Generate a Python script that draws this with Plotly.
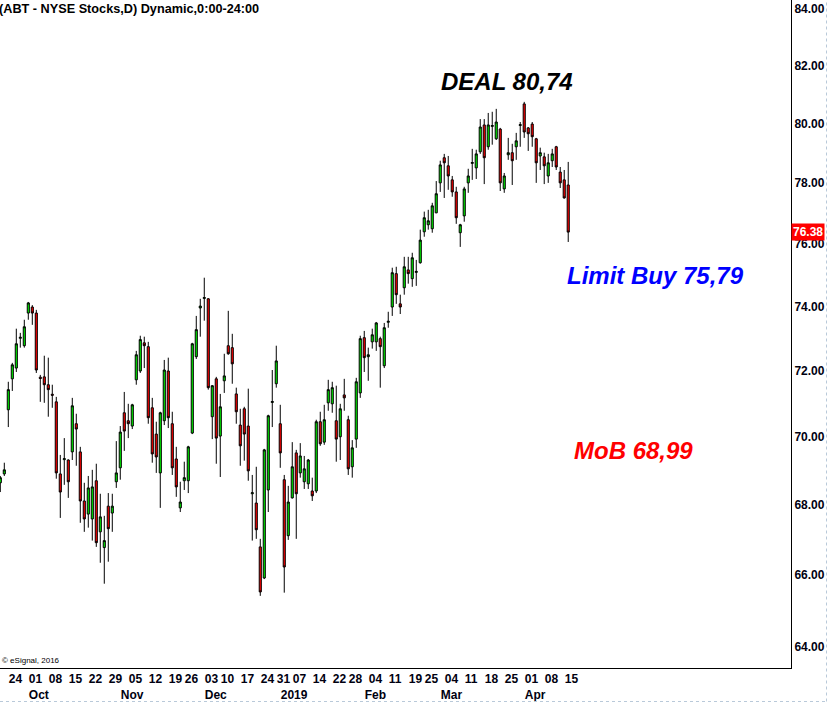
import math
import pandas as pd
import plotly.graph_objects as go

# ---------------- data ----------------
holidays = ["2018-11-22", "2018-12-05", "2018-12-25", "2019-01-01", "2019-01-21", "2019-02-18"]
trading_days = [d for d in pd.bdate_range("2018-09-20", "2019-04-16")
                if d.strftime("%Y-%m-%d") not in holidays]

open_ = [68.64, 68.90, 70.81, 71.75, 72.08, 73.00, 72.77, 73.79, 73.98, 73.79,
         71.80, 71.81, 71.57, 71.28, 71.05, 68.90, 69.32, 69.31, 69.55, 70.39,
         69.55, 68.11, 67.73, 67.59, 68.70, 67.22, 66.77, 67.96, 67.76, 68.67,
         69.08, 70.72, 70.48, 70.32, 71.72, 71.99, 72.86, 72.74, 70.87, 70.08,
         68.93, 70.48, 71.99, 70.39, 69.34, 67.91, 68.70, 68.70, 70.11, 72.43,
         73.95, 74.25, 74.24, 70.60, 71.75, 70.02, 71.69, 72.77, 72.71, 71.29,
         70.35, 70.84, 70.32, 68.32, 68.05, 66.79, 65.91, 68.43, 71.03, 71.60,
         70.39, 68.73, 67.11, 68.20, 69.52, 68.93, 68.67, 68.61, 68.40, 68.40,
         70.45, 69.84, 71.02, 70.99, 70.48, 70.00, 71.26, 70.51, 69.11, 69.93,
         71.32, 73.02, 72.43, 72.89, 72.89, 72.99, 72.15, 73.50, 73.98, 75.04,
         74.08, 74.59, 75.16, 74.88, 75.08, 75.39, 76.39, 76.62, 76.49, 77.01,
         78.00, 78.84, 78.57, 78.10, 77.70, 76.36, 76.91, 78.00, 78.65, 78.50,
         79.04, 79.95, 79.21, 79.90, 79.48, 79.81, 77.80, 78.94, 79.01, 79.21,
         79.93, 80.67, 79.85, 79.98, 79.48, 78.90, 78.87, 78.23, 78.74, 79.21,
         78.36, 78.10, 77.93]
high = [68.84, 69.23, 71.66, 72.24, 73.30, 73.17, 73.58, 74.14, 74.04, 73.89,
        71.87, 72.46, 72.40, 71.57, 71.20, 69.46, 69.96, 69.33, 71.17, 70.69,
        69.70, 68.64, 68.84, 69.02, 69.20, 68.32, 67.68, 68.34, 68.32, 69.87,
        70.32, 71.35, 70.99, 70.99, 72.61, 73.08, 73.05, 72.89, 71.17, 70.45,
        70.75, 72.33, 72.40, 70.75, 69.70, 68.67, 69.26, 69.73, 72.86, 73.70,
        74.24, 74.91, 74.26, 71.56, 71.81, 71.29, 72.52, 73.86, 73.14, 71.48,
        70.84, 70.90, 71.45, 68.87, 69.11, 67.02, 69.64, 70.66, 72.02, 72.77,
        70.96, 68.87, 68.55, 69.84, 69.61, 69.81, 69.43, 69.34, 68.79, 70.51,
        70.75, 70.96, 71.72, 71.66, 71.54, 70.99, 71.75, 70.63, 69.90, 71.78,
        73.08, 73.23, 72.71, 73.30, 73.51, 73.05, 73.48, 73.83, 75.23, 75.26,
        74.37, 75.58, 75.58, 75.71, 75.48, 76.46, 77.05, 77.11, 77.34, 78.06,
        78.74, 78.97, 78.90, 78.23, 77.87, 76.65, 77.87, 78.47, 79.14, 79.11,
        80.15, 80.15, 80.36, 80.40, 80.50, 79.85, 78.33, 79.51, 79.31, 79.68,
        80.05, 80.74, 79.88, 80.05, 79.51, 79.18, 79.01, 78.97, 79.14, 79.24,
        78.53, 78.43, 78.70]
low = [68.37, 68.84, 70.29, 71.38, 71.96, 72.71, 72.71, 73.58, 73.42, 71.93,
       71.05, 71.02, 70.60, 70.87, 68.76, 67.62, 68.58, 68.20, 69.31, 69.14,
       67.48, 67.22, 67.34, 66.97, 66.79, 66.34, 65.75, 66.37, 67.22, 68.49,
       68.73, 69.58, 69.96, 70.23, 71.57, 71.93, 72.08, 70.39, 69.23, 68.93,
       67.91, 70.35, 70.26, 68.87, 68.23, 67.79, 68.43, 68.34, 70.08, 72.36,
       73.05, 73.55, 71.42, 69.93, 69.20, 68.81, 71.32, 72.49, 71.60, 70.39,
       69.14, 69.29, 68.70, 66.97, 67.02, 65.41, 65.88, 67.79, 70.29, 71.48,
       69.08, 65.50, 66.99, 68.18, 67.02, 68.79, 68.46, 68.46, 68.11, 68.34,
       69.73, 69.76, 70.78, 70.72, 69.26, 69.31, 70.78, 68.87, 68.79, 69.67,
       71.17, 71.96, 71.69, 72.68, 72.61, 71.48, 72.08, 73.33, 73.70, 74.08,
       73.76, 74.37, 74.72, 74.62, 74.65, 75.36, 76.23, 76.46, 76.36, 77.00,
       77.70, 77.50, 77.77, 77.54, 76.65, 75.90, 76.72, 77.67, 78.10, 78.13,
       78.97, 77.96, 79.11, 79.28, 79.44, 77.73, 77.67, 78.77, 77.93, 78.77,
       79.21, 79.51, 79.07, 79.21, 78.00, 78.43, 77.96, 78.00, 78.53, 78.43,
       77.83, 77.48, 76.06]
close = [68.79, 69.02, 71.42, 72.18, 72.83, 73.03, 73.36, 74.11, 73.79, 72.02,
         71.76, 71.57, 71.42, 71.25, 68.93, 68.37, 69.35, 68.67, 70.93, 70.23,
         68.11, 67.59, 68.49, 68.52, 66.91, 67.65, 66.97, 67.31, 67.96, 68.93,
         70.14, 70.17, 70.39, 70.96, 72.49, 72.96, 72.77, 70.57, 69.49, 69.40,
         70.72, 72.02, 70.57, 69.08, 68.52, 68.08, 68.79, 69.70, 72.83, 73.27,
         74.01, 74.28, 71.48, 71.54, 69.96, 70.90, 71.84, 72.52, 72.21, 70.75,
         69.73, 70.08, 68.99, 68.35, 67.28, 65.52, 69.61, 70.63, 71.06, 72.30,
         69.52, 66.22, 68.08, 69.11, 68.32, 69.43, 69.05, 69.31, 68.26, 70.45,
         69.79, 70.51, 71.42, 71.48, 69.93, 70.84, 71.17, 69.05, 69.67, 71.66,
         72.99, 72.40, 72.49, 73.11, 73.48, 72.74, 73.33, 73.53, 75.07, 74.37,
         73.98, 75.26, 75.04, 75.55, 75.11, 76.12, 76.85, 76.75, 77.24, 77.64,
         78.60, 78.67, 78.23, 77.70, 76.85, 76.62, 77.80, 78.23, 78.68, 78.97,
         79.88, 78.84, 79.95, 79.93, 80.05, 78.00, 78.23, 79.01, 78.74, 79.41,
         79.96, 79.71, 79.65, 79.55, 78.67, 79.01, 78.57, 78.67, 78.97, 78.53,
         78.00, 77.50, 76.38]

week_starts = ["2018-09-24", "2018-10-01", "2018-10-08", "2018-10-15", "2018-10-22", "2018-10-29",
               "2018-11-05", "2018-11-12", "2018-11-19", "2018-11-26", "2018-12-03", "2018-12-10",
               "2018-12-17", "2018-12-24", "2018-12-31", "2019-01-07", "2019-01-14", "2019-01-22",
               "2019-01-28", "2019-02-04", "2019-02-11", "2019-02-19", "2019-02-25", "2019-03-04",
               "2019-03-11", "2019-03-18", "2019-03-25", "2019-04-01", "2019-04-08", "2019-04-15"]
month_starts = ["2018-10-01", "2018-11-01", "2018-12-03", "2019-01-02", "2019-02-01", "2019-03-01", "2019-04-01"]
month_names = ["Oct", "Nov", "Dec", "2019", "Feb", "Mar", "Apr"]

price_ticks = [64, 66, 68, 70, 72, 74, 76, 78, 80, 82, 84]

# ---------------- figure ----------------
FONT = "Liberation Sans, Arial, sans-serif"
day_keys = [d.strftime("%Y-%m-%d") for d in trading_days]
x = list(range(len(trading_days)))

labels = {}
for ds in week_starts:
    labels.setdefault(day_keys.index(ds), ["\u00a0", ""])[0] = ds[-2:]
for ds, name in zip(month_starts, month_names):
    labels.setdefault(day_keys.index(ds), ["\u00a0", ""])[1] = name
tickvals = sorted(labels)
ticktext = [labels[k][0] + ("<br>" + labels[k][1] if labels[k][1] else "") for k in tickvals]

fig = go.Figure(go.Candlestick(
    x=x, open=open_, high=high, low=low, close=close,
    text=day_keys, hoverinfo="text+y",
    increasing=dict(fillcolor="#00f000", line=dict(color="black", width=1)),
    decreasing=dict(fillcolor="#ff0000", line=dict(color="black", width=1)),
    whiskerwidth=0, showlegend=False,
))

W, H = 830, 704
ML, MR, MT, MB = 0, 39, 0, 36
pw, ph = W - ML - MR, H - MT - MB

fig.update_layout(
    width=W, height=H,
    margin=dict(l=ML, r=MR, t=MT, b=MB),
    paper_bgcolor="white", plot_bgcolor="white",
    font=dict(family=FONT, color="black", size=12),
    boxgap=0.25,
    xaxis=dict(
        range=[-0.075, 197.7], rangeslider=dict(visible=False),
        showgrid=False, zeroline=False,
        showline=True, linecolor="black", linewidth=1,
        ticks="", tickmode="array", tickvals=tickvals, ticktext=ticktext,
        tickangle=0, ticklabelposition="outside right",
        tickfont=dict(family=FONT, size=12, weight="bold", color="#000010"),
    ),
    yaxis=dict(
        type="log", range=[1.802293, 1.925946], side="right",
        showgrid=False, zeroline=False,
        showline=True, linecolor="black", linewidth=1,
        ticks="", tickmode="array", tickvals=price_ticks,
        ticktext=[f"{v:.2f}" for v in price_ticks],
        tickfont=dict(family=FONT, size=12, weight="bold", color="#000010"),
    ),
)

ann = []
ann.append(dict(xref="paper", yref="paper", x=0, y=1, xanchor="left", yanchor="top",
                xshift=-3, text="(ABT - NYSE Stocks,D) Dynamic,0:00-24:00", showarrow=False,
                font=dict(family=FONT, size=12.7, weight="bold", color="black")))
ann.append(dict(xref="paper", yref="paper", x=0, y=1 - 660 / ph, xanchor="left", yanchor="middle",
                text="\u00a9 eSignal, 2016", showarrow=False,
                font=dict(family=FONT, size=8, color="black")))
ann.append(dict(xref="paper", yref="y", x=1, y=math.log10(close[-1]), xanchor="left", yanchor="middle",
                text="<b>%.2f</b>" % close[-1], showarrow=False, bgcolor="#ff0000", borderpad=1,
                font=dict(family=FONT, size=12, color="white")))
for txt, xi, yp, col in [("DEAL 80,74", 126.7, 81, "black"),
                         ("Limit Buy 75,79", 163.7, 275, "#0000ff"),
                         ("MoB 68,99", 158.2, 450, "#ff0000")]:
    ann.append(dict(xref="x", yref="paper", x=xi, y=1 - yp / ph, xanchor="center", yanchor="middle",
                    text=txt, showarrow=False,
                    font=dict(family=FONT, size=24, weight="bold", style="italic", color=col)))
fig.update_layout(annotations=ann)

# light dotted outer frame of the screenshot
xr = 826.5 / pw
yb = -33.5 / ph
fig.add_shape(type="line", xref="paper", yref="paper", x0=0, x1=xr, y0=yb, y1=yb,
              line=dict(color="#b9c9d9", width=1, dash="dot"))
fig.add_shape(type="line", xref="paper", yref="paper", x0=xr, x1=xr, y0=yb, y1=1,
              line=dict(color="#b9c9d9", width=1, dash="dot"))

fig.write_html("out.html", config={"displayModeBar": False},
               post_script="document.body.style.margin='0';document.body.style.overflow='hidden';")
